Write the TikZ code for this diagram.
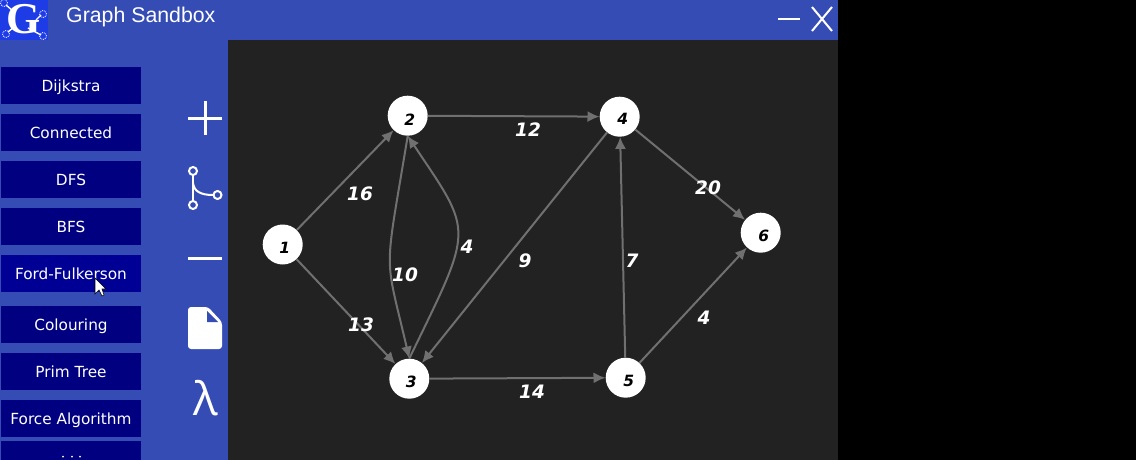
\documentclass[tikz,border=0pt]{standalone}
\usepackage{fontspec}
\usepackage{xcolor}
\usetikzlibrary{arrows.meta}
\setmainfont{DejaVu Sans}
\newfontfamily\titlefont{Liberation Sans}
\newfontfamily\serifbold{Liberation Serif}
\newfontfamily\lambdafont{Open Sans}
\definecolor{barblue}{HTML}{354CB5}
\definecolor{logoblue}{HTML}{1E3CE6}
\definecolor{canvasgray}{HTML}{222222}
\definecolor{btnblue}{HTML}{000080}
\definecolor{btnhover}{HTML}{000094}
\definecolor{edgegray}{HTML}{707070}

\begin{document}
\begin{tikzpicture}[x=1pt, y=-1pt,
    btn/.style={rectangle, fill=btnblue, text=white, minimum width=140pt, minimum height=37pt, inner sep=0pt, text depth=0pt, font=\fontsize{15.3}{17}\selectfont},
    vertex/.style={circle, fill=white, minimum size=40pt, inner sep=0pt},
    vnum/.style={text=black, inner sep=0pt, font=\fontsize{15.5}{17}\selectfont\itshape\bfseries},
    weight/.style={text=white, inner sep=0pt, font=\fontsize{18.5}{20}\selectfont\itshape\bfseries},
    edge/.style={-{Latex[length=12pt,width=11pt]}, edgegray, line width=2pt},
    icon/.style={white, line width=3pt}]

    \useasboundingbox (0,0) rectangle (1136,460);
    \fill[black] (0,0) rectangle (1136,460);
    \fill[barblue] (0,0) rectangle (838,460);
    \fill[canvasgray] (228,40) rectangle (838,460);

    % title bar
    \fill[logoblue] (0,0) rectangle (48,40);
    \draw[white, line width=1.4pt] (6,5) -- (13,11) (14,27) -- (8,32) (28,28) -- (41,35) (36,20) -- (41,15);
    \foreach \cx/\cy in {4/3, 43/14, 6/34, 43/36}
        \draw[white, densely dotted, line width=0.8pt] (\cx,\cy) circle (3.5pt);
    \node[text=white, inner sep=0pt, font=\serifbold\fontsize{44}{44}\selectfont\bfseries] (logo) at (24,19) {G};
    \node[text=white, anchor=base west, inner sep=0pt, font=\titlefont\fontsize{21.3}{23}\selectfont] (title) at (66,23) {Graph Sandbox};
    \draw[white, line width=2.4pt] (778,19) -- (800,19);
    \draw[white, line width=2pt] (812,7) -- (832,31) (832,7) -- (812,31);

    % buttons
    \node[btn] (dijkstra) at (71,85.5) {Dijkstra};
    \node[btn] (connected) at (71,132.5) {Connected};
    \node[btn] (dfs) at (71,179.5) {DFS};
    \node[btn] (bfs) at (71,226.5) {BFS};
    \node[btn, fill=btnhover] (ford) at (71,273.5) {Ford-Fulkerson};
    \node[btn] (colouring) at (71,324.5) {Colouring};
    \node[btn] (prim) at (71,371.5) {Prim Tree};
    \node[btn] (force) at (71,418.5) {Force Algorithm};
    \fill[btnblue] (1,441) rectangle (141,460);
    \foreach \cx in {63,72,80}
        \fill[white] (\cx,456.5) circle (1pt);

    % cursor
    \fill[white, draw=black, line width=0.6pt] (95,278) -- (95,294) -- (99,290) -- (102,296) -- (104,295) -- (102,289) -- (106,289) -- cycle;

    % tool icons
    \draw[icon] (188,118) -- (222,118) (205,101) -- (205,135);
    \draw[white, line width=2pt] (193,175) -- (193,201);
    \draw[white, line width=2pt] (193,183) .. controls (194,191) and (200,195) .. (213,195);
    \draw[white, line width=2pt] (193,171) circle (4pt) (193,205) circle (4pt) (217.5,195) circle (4pt);
    \draw[icon] (188,258) -- (222,258);
    \fill[white, rounded corners=3pt] (188,307) -- (208,307) -- (222,322) -- (222,349) -- (188,349) -- cycle;
    \fill[barblue] (207,311) -- (207,322) -- (218,322) -- cycle;
    \node[text=white, inner sep=0pt, font=\lambdafont\fontsize{46}{48}\selectfont] (lambda) at (206,398) {λ};

    % graph
    \node[vertex, label={[vnum, xshift=2pt, yshift=-3pt]center:1}] (n1) at (282.7,244.5) {};
    \node[vertex, label={[vnum, xshift=2pt, yshift=-4pt]center:2}] (n2) at (407.7,115.7) {};
    \node[vertex, label={[vnum, xshift=2pt, yshift=-3pt]center:3}] (n3) at (409.3,378.7) {};
    \node[vertex, label={[vnum, xshift=3pt, yshift=-2pt]center:4}] (n4) at (619.7,116.7) {};
    \node[vertex, label={[vnum, xshift=3pt, yshift=-3pt]center:5}] (n5) at (625.7,377.7) {};
    \node[vertex, label={[vnum, xshift=3pt, yshift=-3pt]center:6}] (n6) at (760.7,232.7) {};

    \draw[edge] (n1) -- (n2);
    \draw[edge] (n1) -- (n3);
    \draw[edge] (n2) -- (n4);
    \draw[edge] (n3) -- (n5);
    \draw[edge] (n4) -- (n3);
    \draw[edge] (n5) -- (n4);
    \draw[edge] (n4) -- (n6);
    \draw[edge] (n5) -- (n6);
    \draw[edge] (n2.south) .. controls (384,280) and (384,250) .. (n3.north);
    \draw[edge] (n3.north) .. controls (474,225) and (474,235) .. (n2.south);

    \node[weight] (w12) at (360,194) {16};
    \node[weight] (w13) at (361,325) {13};
    \node[weight] (w23) at (405,275) {10};
    \node[weight] (w32) at (467,247) {4};
    \node[weight] (w24) at (528,130) {12};
    \node[weight] (w35) at (532,392) {14};
    \node[weight] (w43) at (525,261) {9};
    \node[weight] (w54) at (632,261) {7};
    \node[weight] (w46) at (708,188) {20};
    \node[weight] (w56) at (704,318) {4};
\end{tikzpicture}
\end{document}
